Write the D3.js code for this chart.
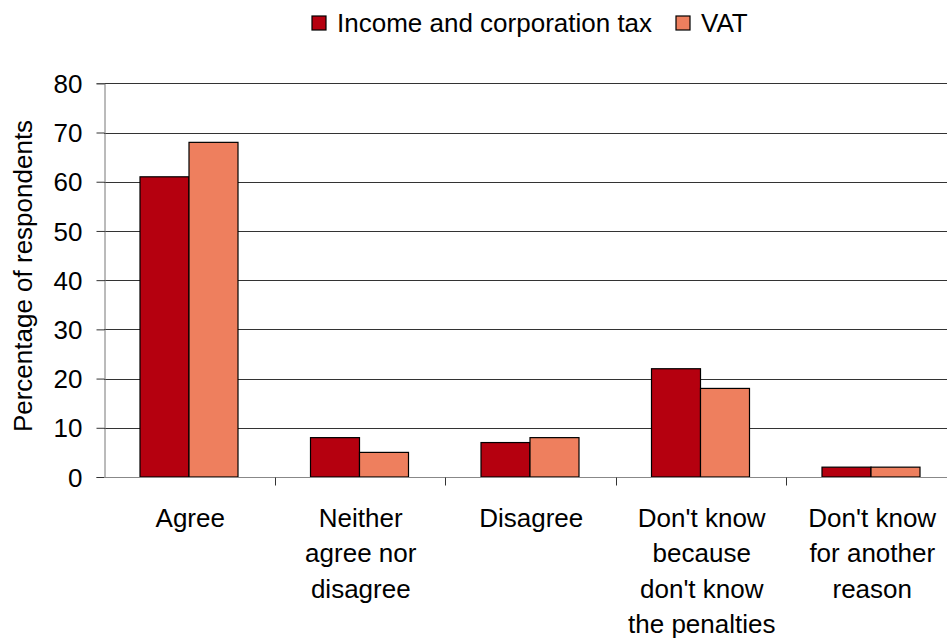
<!DOCTYPE html>
<html>
<head>
<meta charset="utf-8">
<script src="https://cdn.jsdelivr.net/npm/d3@7"></script>
<style>
  body { margin: 0; background: #fff; }
  svg text { font-family: "Liberation Sans", Arial, sans-serif; fill: #000; }
</style>
</head>
<body>
<svg id="chart" width="947" height="639"></svg>
<script>
// data
var categories = [
  ['Agree'],
  ['Neither', 'agree nor', 'disagree'],
  ['Disagree'],
  ["Don't know", 'because', "don't know", 'the penalties'],
  ["Don't know", 'for another', 'reason']
];
var seriesNames = ['Income and corporation tax', 'VAT'];
var incomeTax = [61, 8, 7, 22, 2];
var vat = [68, 5, 8, 18, 2];
var yTicks = [0, 10, 20, 30, 40, 50, 60, 70, 80];
var colors = ['#b5000f', '#ee7f5e'];

var svg = d3.select('#chart');

// plot area (the right edge runs past the window, as in the original)
var plotLeft = 104, plotRight = 956.5, plotTop = 83.3, plotBottom = 477;

var x = d3.scaleBand()
  .domain(d3.range(categories.length))
  .range([plotLeft, plotRight])
  .padding(0);

var inner = d3.scaleBand()
  .domain(seriesNames)
  .range([36, 134]);

var y = d3.scaleLinear()
  .domain([0, 80])
  .range([plotBottom, plotTop]);

// gridlines
svg.append('g')
  .selectAll('line')
  .data(yTicks.filter(function(d) { return d > 0; }))
  .enter().append('line')
  .attr('x1', plotLeft).attr('x2', plotRight)
  .attr('y1', function(d) { return Math.round(y(d)) + 0.5; })
  .attr('y2', function(d) { return Math.round(y(d)) + 0.5; })
  .attr('stroke', '#333')
  .attr('stroke-width', 1);

// bars
var rows = categories.map(function(c, i) {
  return [
    {s: seriesNames[0], v: incomeTax[i], i: i, c: colors[0]},
    {s: seriesNames[1], v: vat[i], i: i, c: colors[1]}
  ];
});

svg.append('g')
  .selectAll('g')
  .data(rows)
  .enter().append('g')
  .selectAll('rect')
  .data(function(d) { return d; })
  .enter().append('rect')
  .attr('x', function(d) { return x(d.i) + inner(d.s); })
  .attr('y', function(d) { return y(d.v); })
  .attr('width', inner.bandwidth())
  .attr('height', function(d) { return y(0) - y(d.v); })
  .attr('fill', function(d) { return d.c; })
  .attr('stroke', '#000')
  .attr('stroke-width', 1.2);

// y axis
var yAxis = d3.axisLeft(y).tickValues(yTicks).tickSize(8).tickPadding(14);
var gy = svg.append('g')
  .attr('transform', 'translate(' + (plotLeft + 0.5) + ',0)')
  .call(yAxis);
gy.select('.domain').attr('stroke', '#777');
gy.selectAll('.tick line').attr('stroke', '#333');
gy.selectAll('.tick text').style('font-size', '26px').attr('dy', '0.35em');

// x axis baseline + ticks between categories
var baseY = Math.round(y(0)) + 0.5;
svg.append('line')
  .attr('x1', plotLeft).attr('x2', plotRight)
  .attr('y1', baseY).attr('y2', baseY)
  .attr('stroke', '#888');

svg.append('g')
  .selectAll('line')
  .data(d3.range(1, categories.length))
  .enter().append('line')
  .attr('x1', function(d) { return Math.round(x(d)) + 0.5; })
  .attr('x2', function(d) { return Math.round(x(d)) + 0.5; })
  .attr('y1', baseY).attr('y2', baseY + 8)
  .attr('stroke', '#333');

// category labels
svg.append('g')
  .selectAll('text')
  .data(categories)
  .enter().append('text')
  .attr('text-anchor', 'middle')
  .style('font-size', '26px')
  .attr('transform', function(d, i) {
    return 'translate(' + (x(i) + x.bandwidth() / 2 + 1) + ',527)';
  })
  .selectAll('tspan')
  .data(function(d) { return d; })
  .enter().append('tspan')
  .attr('x', 0)
  .attr('y', function(d, j) { return j * 35.4; })
  .text(function(d) { return d; });

// y axis title
svg.append('text')
  .attr('transform', 'translate(32,276) rotate(-90)')
  .attr('text-anchor', 'middle')
  .style('font-size', '26px')
  .text('Percentage of respondents');

// legend
var legend = svg.append('g');
var legendX = [312, 676];
seriesNames.forEach(function(name, i) {
  legend.append('rect')
    .attr('x', legendX[i]).attr('y', 16)
    .attr('width', 14).attr('height', 14)
    .attr('fill', colors[i])
    .attr('stroke', '#000')
    .attr('stroke-width', 1.2);
  legend.append('text')
    .attr('x', legendX[i] + 25)
    .attr('y', 32)
    .style('font-size', '26px')
    .text(name);
});
</script>
</body>
</html>
